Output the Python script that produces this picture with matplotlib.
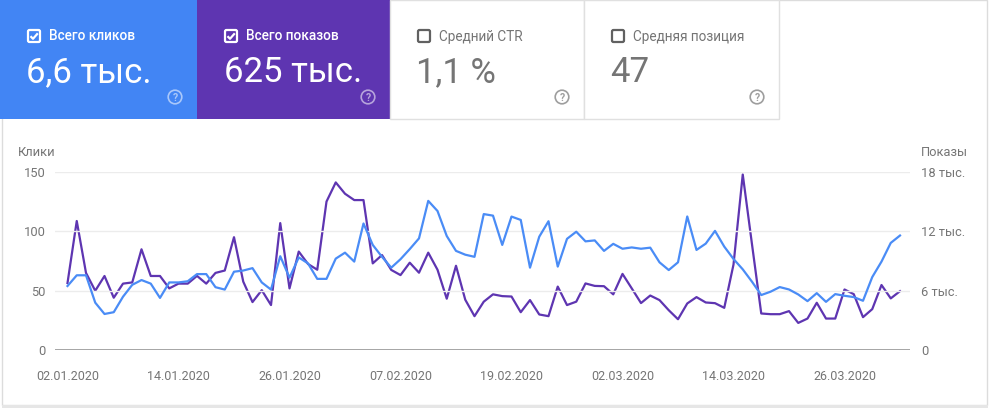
import matplotlib
matplotlib.use("Agg")
import matplotlib.pyplot as plt
from matplotlib.patches import Rectangle, FancyBboxPatch, Circle
import numpy as np
import pandas as pd

# ---------------- data ----------------
dates = pd.date_range("2020-01-02", "2020-04-01", freq="D")
clicks = [54, 63, 63, 40, 30.5, 32, 45, 55, 59, 56,
          44, 57, 57, 58, 64, 64, 53, 51, 66, 67,
          69, 57, 51, 79, 61, 78, 73, 60, 60, 77,
          82, 74.5, 106.5, 88.5, 78.5, 69.4, 76.5, 85, 94, 125.5,
          117, 96, 83.5, 80.3, 78.5, 114.4, 113.1, 88.5, 112.3, 109.5,
          69.4, 95.4, 108.4, 70.3, 93.6, 99.6, 91.5, 92.3, 83.5, 89.4,
          85.3, 86.4, 85.3, 86.2, 73.9, 67.4, 73.9, 112.4, 84.3, 89.6,
          100.3, 87.1, 76.7, 68, 57.6, 46.4, 49.2, 53.1, 51.1, 46.9,
          41.3, 48, 40.7, 47.2, 45.8, 44.7, 41.6, 61.5, 74.5, 90.2,
          96.4]
impressions = [6780, 13030, 7800, 6000, 7490, 5300, 6720, 6840, 10180, 7490,
               7490, 6240, 6720, 6720, 7500, 6720, 7800, 8040, 11400, 6920,
               4860, 6060, 4560, 12820, 6240, 9950, 8700, 8120, 14990, 16920,
               15780, 15140, 15140, 8760, 9600, 8100, 7580, 8830, 7820, 9840,
               8120, 5200, 8520, 5100, 3440, 4900, 5640, 5460, 5420, 3840,
               5060, 3610, 3440, 6420, 4560, 4900, 6740, 6490, 6460, 5640,
               7700, 6240, 4760, 5520, 5060, 4040, 3130, 4720, 5360, 4820,
               4750, 4280, 8640, 17720, 10680, 3710, 3640, 3640, 3950, 2760,
               3200, 4790, 3200, 3200, 6130, 5660, 3340, 4150, 6580, 5230,
               5960]

left_ticks = [0, 50, 100, 150]
right_ticks = [0, 6000, 12000, 18000]
right_labels = ["0", "6 тыс.", "12 тыс.", "18 тыс."]
tick_dates = ["02.01.2020", "14.01.2020", "26.01.2020", "07.02.2020",
              "19.02.2020", "02.03.2020", "14.03.2020", "26.03.2020"]

cards = [
    ("Всего кликов", "6,6 тыс.", True, "#4285f4"),
    ("Всего показов", "625 тыс.", True, "#5e35b1"),
    ("Средний CTR", "1,1 %", False, "#ffffff"),
    ("Средняя позиция", "47", False, "#ffffff"),
]

BLUE = "#4a8cf6"
PURPLE = "#5e35b1"
GREY = "#757575"
W, H = 989, 411

plt.rcParams['font.family'] = ['Roboto', 'DejaVu Sans']

fig = plt.figure(figsize=(W / 100, H / 100), dpi=100)
fig.patch.set_facecolor("white")

# background / cards axis in pixel coords
bg = fig.add_axes([0, 0, 1, 1])
bg.set_xlim(0, W)
bg.set_ylim(H, 0)
bg.axis("off")

# outer widget frame + shadow
bg.add_patch(Rectangle((1.5, 0.5), 985.5, 404, facecolor="white",
                       edgecolor="#dcdcdc", lw=1.0, zorder=0))
bg.add_patch(Rectangle((2, 405), 986, 2.5, facecolor="#e6e6e6",
                       edgecolor="none", zorder=0))

card_x = [0, 197, 390, 584]
card_w = [197, 193, 194, 195]
for (title, value, checked, col), x0, cw in zip(cards, card_x, card_w):
    if checked:
        bg.add_patch(Rectangle((x0, 0), cw, 119, facecolor=col,
                               edgecolor="none", zorder=1))
        fg = "white"
        boxcol = "white"
        iconcol = (1, 1, 1, 0.55)
        valcol = "white"
    else:
        bg.add_patch(Rectangle((x0, 0.5), cw, 118.5, facecolor="white",
                               edgecolor="#e0e0e0", lw=1.0, zorder=1))
        fg = GREY
        boxcol = "#616161"
        iconcol = "#9e9e9e"
        valcol = GREY
    bx = x0 + 28
    # checkbox
    bg.add_patch(FancyBboxPatch((bx, 30), 12, 12,
                                boxstyle="round,pad=0,rounding_size=1.5",
                                facecolor="none", edgecolor=boxcol, lw=1.6,
                                zorder=3))
    if checked:
        bg.plot([bx + 2.5, bx + 5, bx + 9.8], [36.2, 38.8, 33.3],
                color="white", lw=1.6, zorder=4, solid_capstyle="butt")
    bg.text(bx + 21, 36.5, title, color=fg, fontsize=9.8, va="center",
            ha="left", zorder=4,
            fontweight="medium" if checked else "normal")
    bg.text(bx - 1.5, 73, value, color=valcol, fontsize=25, va="center",
            ha="left", zorder=4)
    # help icon
    cx = x0 + cw - 22
    bg.add_patch(Circle((cx, 97), 6.8, facecolor="none", edgecolor=iconcol,
                        lw=1.2, zorder=4))
    bg.text(cx, 97.5, "?", color=iconcol, fontsize=7.5, ha="center",
            va="center", zorder=5, fontweight="bold")

# ---------------- chart ----------------
x = np.arange(len(dates))
px_per_day = 9.25
x0_px, left_px, right_px = 67.5, 55, 910
xmin = -(x0_px - left_px) / px_per_day
xmax = (right_px - x0_px) / px_per_day
y0_px, y150_px = 350.3, 171.7

ax = fig.add_axes([left_px / W, (H - y0_px) / H, (right_px - left_px) / W,
                   (y0_px - y150_px) / H])
ax.set_facecolor("none")
ax.set_xlim(xmin, xmax)
ax.set_ylim(0, 150)
ax2 = ax.twinx()
ax2.set_ylim(0, 18000)

for t in left_ticks[1:]:
    ax.axhline(t, color="#ececec", lw=1.0, zorder=0)
ax.axhline(0, color="#9e9e9e", lw=1.3, zorder=1)

ax2.plot(x, impressions, color=PURPLE, lw=1.6, zorder=3, clip_on=False,
         solid_joinstyle="round")
ax.plot(x, clicks, color=BLUE, lw=1.6, zorder=4, clip_on=False,
        solid_joinstyle="round")
ax.set_zorder(ax2.get_zorder() + 1)
ax.patch.set_visible(False)

for a in (ax, ax2):
    for s in a.spines.values():
        s.set_visible(False)

ax.set_yticks(left_ticks)
ax.set_yticklabels([str(v) for v in left_ticks])
ax.tick_params(axis="y", length=0, pad=7, labelcolor=GREY, labelsize=9.3)
ax2.set_yticks(right_ticks)
ax2.set_yticklabels(right_labels)
ax2.tick_params(axis="y", length=0, pad=8, labelcolor=GREY, labelsize=9.3)

tick_pos = [list(dates.strftime("%d.%m.%Y")).index(d) for d in tick_dates]
ax.set_xticks(tick_pos)
ax.set_xticklabels(tick_dates)
ax.tick_params(axis="x", length=0, pad=14, labelcolor=GREY, labelsize=9.0)

fig.text(18 / W, 1 - 153 / H, "Клики", color=GREY, fontsize=9.3,
         ha="left", va="center")
fig.text(968 / W, 1 - 153 / H, "Показы", color=GREY, fontsize=9.3,
         ha="right", va="center")

fig.savefig("out.png", dpi=100, facecolor="white")
